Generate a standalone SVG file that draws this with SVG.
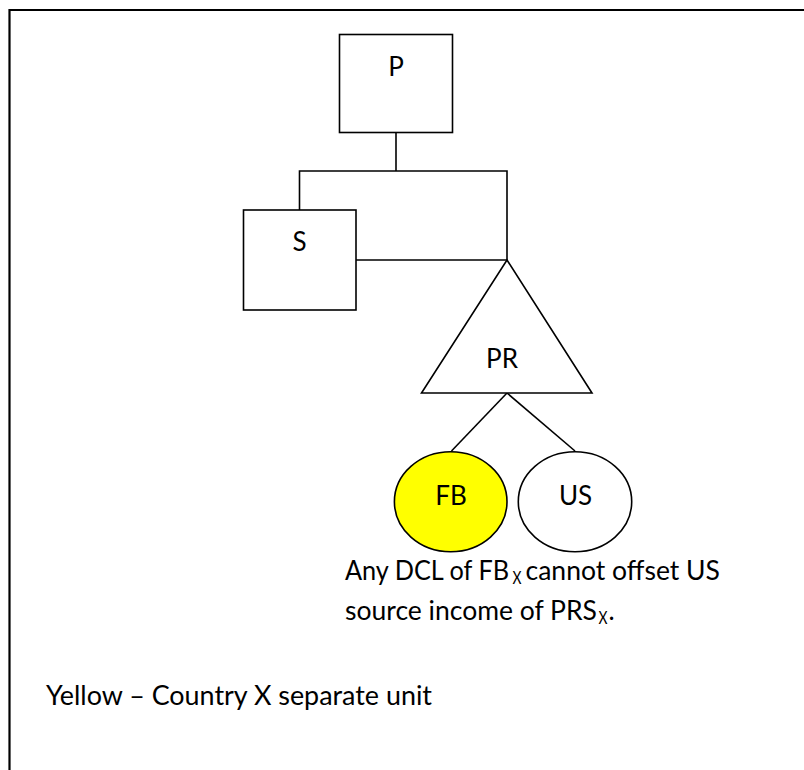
<svg xmlns="http://www.w3.org/2000/svg" width="804" height="770" viewBox="0 0 804 770">
<style>
.shape{fill:#fff;stroke:#000;stroke-width:1.6}
.line{fill:none;stroke:#000;stroke-width:1.6}
.border{fill:none;stroke:#000;stroke-width:2.2}
.lbl{font-family:Lato,"Open Sans","Liberation Sans",sans-serif;font-size:26px;fill:#000;text-anchor:middle}
.txt{font-family:Lato,"Open Sans","Liberation Sans",sans-serif;font-size:26px;fill:#000}
.sub{font-family:Lato,"Open Sans","Liberation Sans",sans-serif;font-size:17px;fill:#000}
</style>
<rect width="804" height="770" fill="#fff"/>
<path class="border" d="M9.5,770 V10 H804"/>
<g id="connectors">
<path class="line" d="M396,133 V171"/>
<path class="line" d="M299.5,210 V171 H507 V260"/>
<path class="line" d="M356,260 H507"/>
<path class="line" d="M507,393 L451.5,451"/>
<path class="line" d="M507,393 L575,451"/>
</g>
<g id="node-P">
<rect class="shape" x="339.5" y="34.5" width="113" height="98"/>
<text class="lbl" x="396" y="76">P</text>
</g>
<g id="node-S">
<rect class="shape" x="243.5" y="210" width="112.5" height="100"/>
<text class="lbl" x="299.5" y="251">S</text>
</g>
<g id="node-PR">
<polygon class="shape" points="507,260 592,393 421.5,393"/>
<text class="lbl" x="502" y="368">PR</text>
</g>
<g id="node-FB">
<ellipse class="shape" cx="450.7" cy="501.7" rx="56.3" ry="50" style="fill:#ffff00"/>
<text class="lbl" x="451" y="505">FB</text>
</g>
<g id="node-US">
<ellipse class="shape" cx="575" cy="501.7" rx="56.7" ry="50"/>
<text class="lbl" x="575.5" y="505">US</text>
</g>
<g id="note">
<text class="txt" x="345" y="580" textLength="164" lengthAdjust="spacingAndGlyphs">Any DCL of FB</text>
<text class="sub" x="512.5" y="584" textLength="9" lengthAdjust="spacingAndGlyphs">X</text>
<text class="txt" x="525.5" y="580" textLength="194.5" lengthAdjust="spacingAndGlyphs">cannot offset US</text>
<text class="txt" x="345" y="620" textLength="252" lengthAdjust="spacingAndGlyphs">source income of PRS</text>
<text class="sub" x="598.5" y="624" textLength="9" lengthAdjust="spacingAndGlyphs">X</text>
<text class="txt" x="608.5" y="620">.</text>
</g>
<g id="legend">
<text class="txt" x="46" y="705" textLength="386" lengthAdjust="spacingAndGlyphs">Yellow – Country X separate unit</text>
</g>
</svg>
